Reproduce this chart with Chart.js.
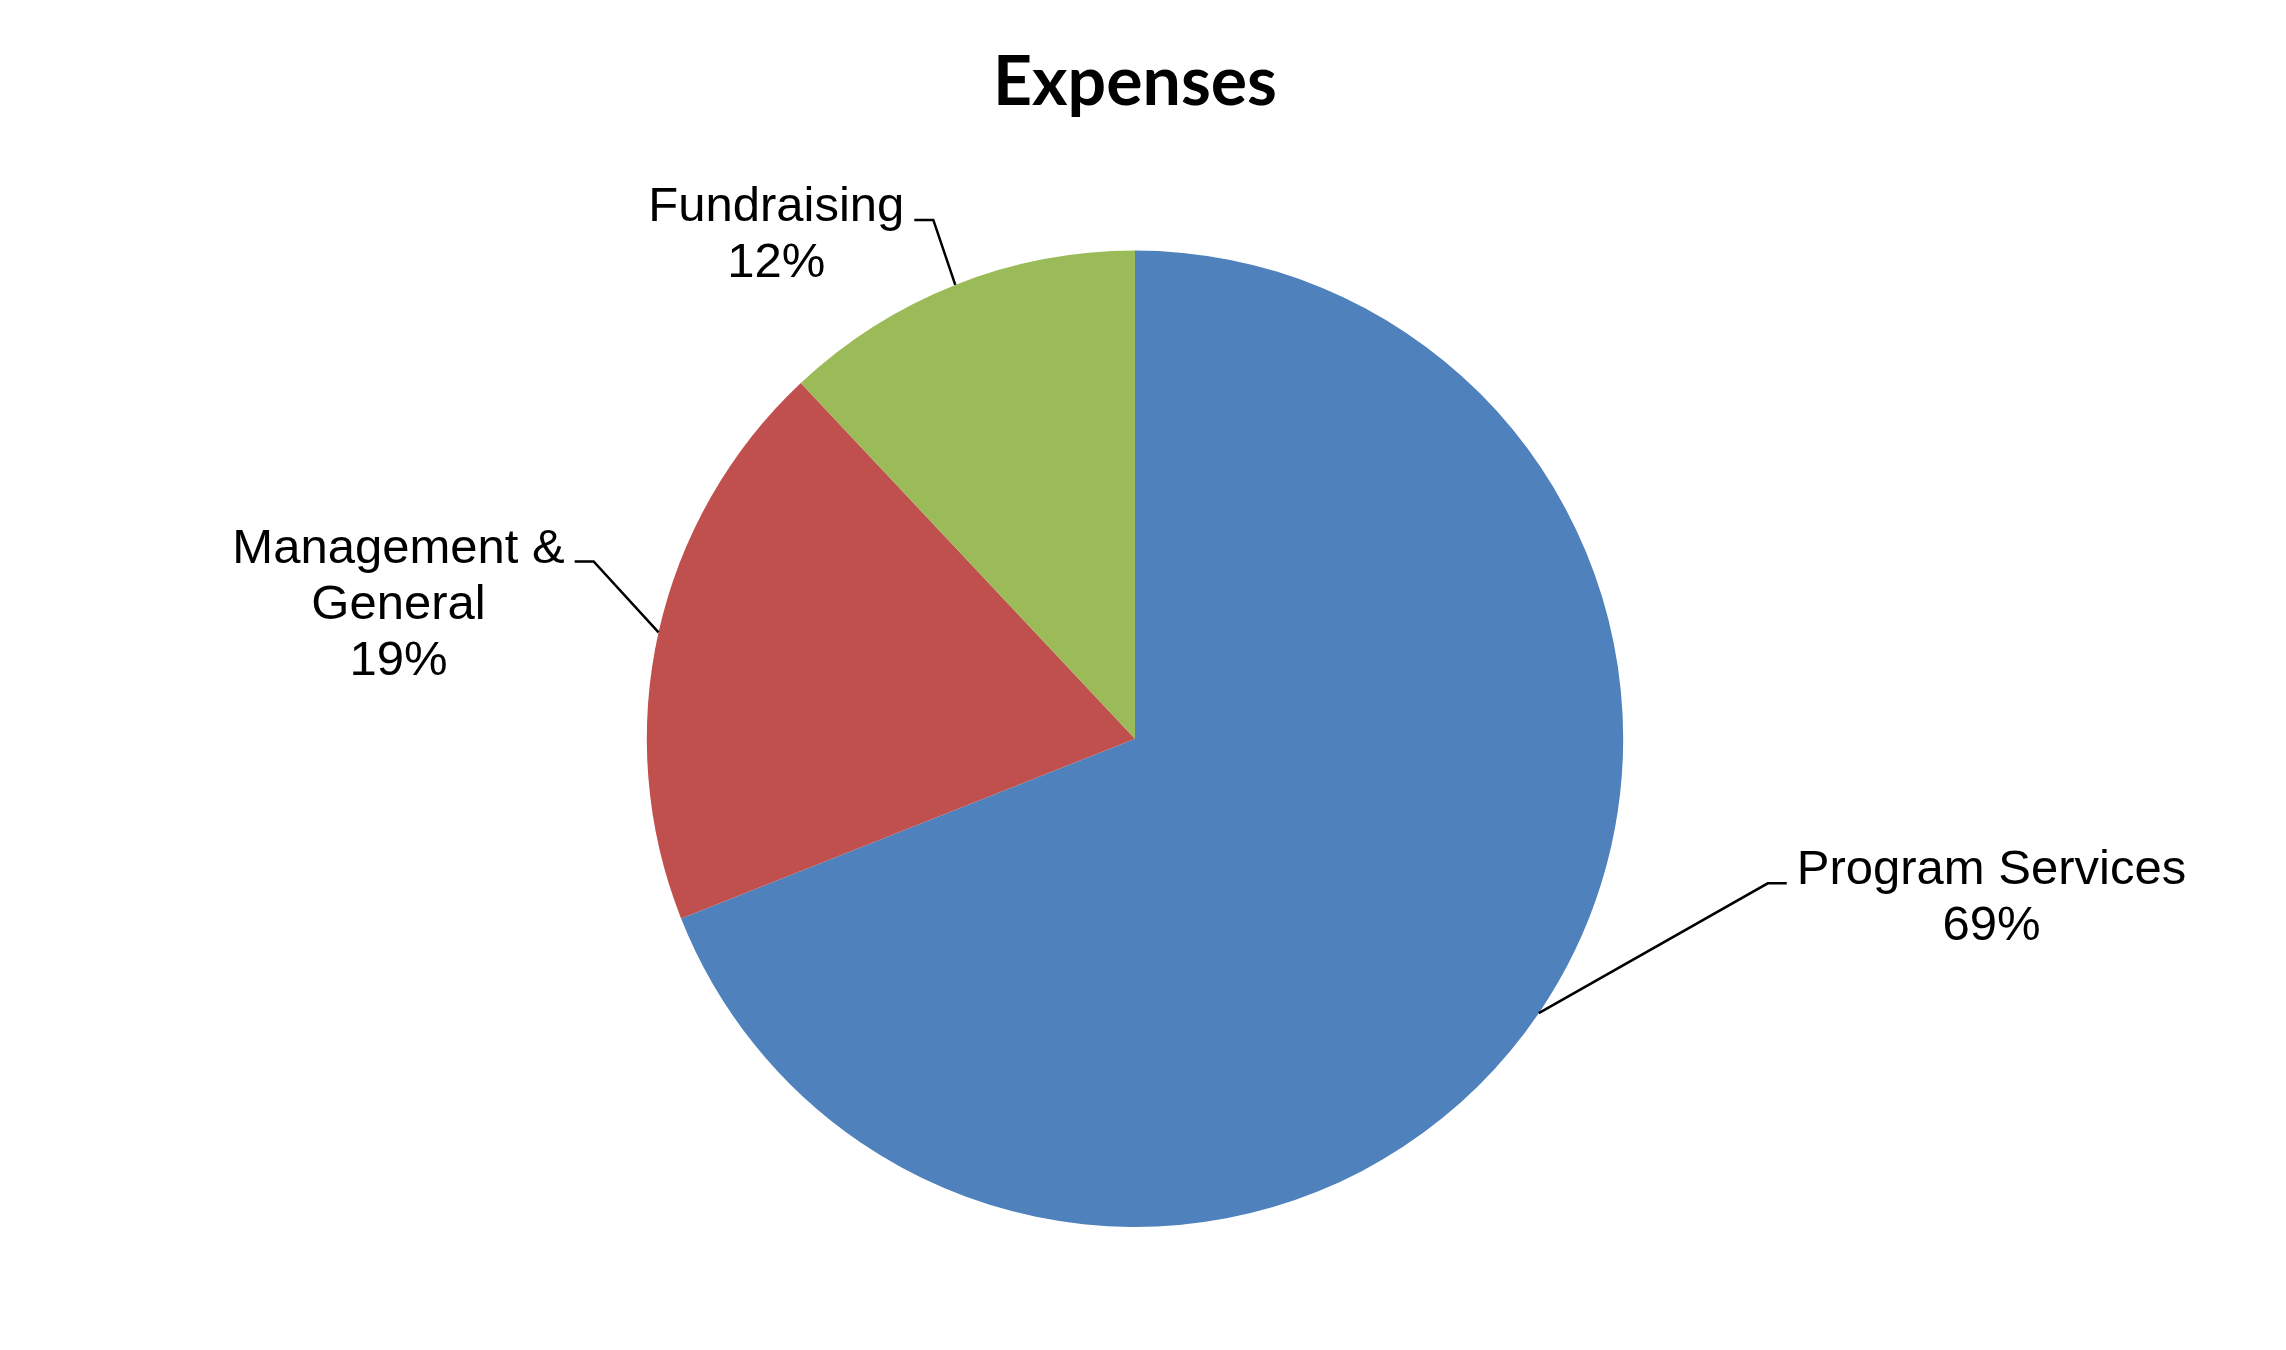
<!DOCTYPE html>
<html>
<head>
<meta charset="utf-8">
<script src="https://cdn.jsdelivr.net/npm/chart.js@4"></script>
<style>
  html, body { margin: 0; padding: 0; background: #fff; }
  #wrap { width: 2286px; height: 1350px; }
</style>
</head>
<body>
<div id="wrap"><canvas id="expenses"></canvas></div>
<script>
// data
const categories = [['Program Services'], ['Management &', 'General'], ['Fundraising']];
const shares = [69, 19, 12];
const sliceColors = ['#4F81BD', '#C0504D', '#9BBB59'];

// where each callout bends, relative to the radius (Excel-like placement)
const calloutBends = [
  { dx: 0.469, dy: -0.266 },
  { dx: -0.133, dy: -0.145 },
  { dx: -0.045, dy: -0.133 }
];

const calloutPlugin = {
  id: 'callouts',
  afterDatasetsDraw(chart) {
    const ctx = chart.ctx;
    const meta = chart.getDatasetMeta(0);
    const values = chart.data.datasets[0].data;
    const total = values.reduce((a, b) => a + b, 0);
    const fontSize = 49, lineH = 56;

    ctx.save();
    ctx.font = fontSize + 'px "Liberation Sans", Arial, sans-serif';
    ctx.fillStyle = '#000';
    ctx.strokeStyle = '#000';
    ctx.lineWidth = 2.5;

    meta.data.forEach((arc, i) => {
      const p = arc.getProps(['x', 'y', 'startAngle', 'endAngle', 'outerRadius'], true);
      const mid = (p.startAngle + p.endAngle) / 2;
      const r = p.outerRadius;
      const ax = p.x + Math.cos(mid) * r;
      const ay = p.y + Math.sin(mid) * r;
      const bend = calloutBends[i];
      const ex = ax + bend.dx * r;
      const ey = ay + bend.dy * r;
      const dir = bend.dx >= 0 ? 1 : -1;
      const hx = ex + dir * 19;

      ctx.beginPath();
      ctx.moveTo(ax, ay);
      ctx.lineTo(ex, ey);
      ctx.lineTo(hx, ey);
      ctx.stroke();

      const lines = [].concat(chart.data.labels[i], Math.round(values[i] / total * 100) + '%');
      const blockW = Math.max(...lines.map(t => ctx.measureText(t).width));
      const left = dir > 0 ? hx + 10 : hx - 10 - blockW;
      const cx = left + blockW / 2;
      ctx.textAlign = 'center';
      ctx.textBaseline = 'alphabetic';
      lines.forEach((t, k) => ctx.fillText(t, cx, ey + 1 + k * lineH));
    });
    ctx.restore();
  }
};

new Chart(document.getElementById('expenses'), {
  type: 'pie',
  data: {
    labels: categories,
    datasets: [{
      data: shares,
      backgroundColor: sliceColors,
      borderWidth: 0,
      hoverOffset: 0,
      offset: 0
    }]
  },
  options: {
    responsive: true,
    maintainAspectRatio: false,
    animation: false,
    layout: { padding: { top: 0, bottom: 123, left: 0, right: 16 } },
    plugins: {
      legend: { display: false },
      tooltip: { enabled: false },
      title: {
        display: true,
        text: 'Expenses',
        color: '#000',
        font: { family: 'Lato', size: 68, weight: 'bold', lineHeight: 1.2 },
        padding: { top: 42, bottom: 127 }
      }
    }
  },
  plugins: [calloutPlugin]
});
</script>
</body>
</html>
